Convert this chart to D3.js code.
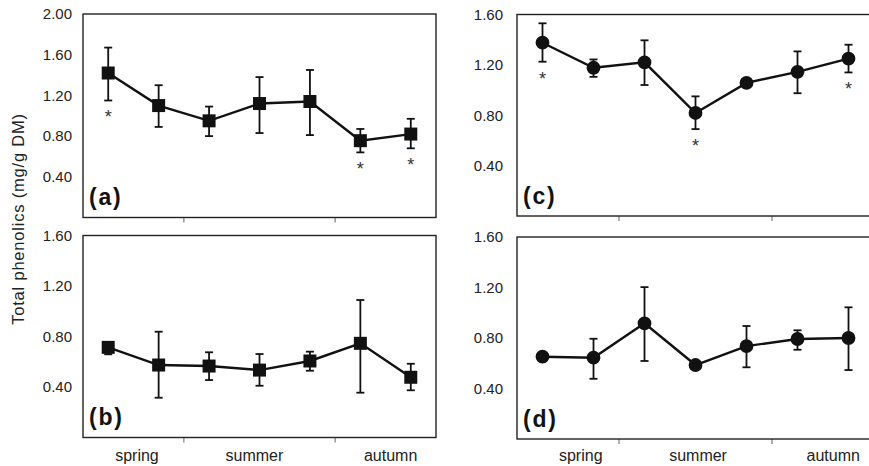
<!DOCTYPE html>
<html>
<head>
<meta charset="utf-8">
<script src="https://cdn.jsdelivr.net/npm/d3@7"></script>
<style>
  body { margin: 0; background: #fff; }
  svg { display: block; font-family: "Liberation Sans", Arial, sans-serif; }
</style>
</head>
<body>
<div id="graph"></div>
<script>
const width = 869;
const height = 466;

// sampling dates (7 per season row) and season names on the x axis
const samplings = [1, 2, 3, 4, 5, 6, 7];
const seasons = ["spring", "summer", "autumn"];

// (a) squares
const aMean = [1.42, 1.10, 0.95, 1.12, 1.14, 0.755, 0.82];
const aHigh = [1.67, 1.30, 1.09, 1.38, 1.45, 0.87, 0.97];
const aLow  = [1.15, 0.89, 0.80, 0.83, 0.81, 0.64, 0.68];
const aSig  = [1, 6, 7];

// (b) squares
const bMean = [0.714, 0.574, 0.566, 0.534, 0.606, 0.746, 0.477];
const bHigh = [0.754, 0.838, 0.675, 0.661, 0.680, 1.089, 0.584];
const bLow  = [0.659, 0.315, 0.455, 0.410, 0.529, 0.355, 0.374];
const bSig  = [];

// (c) circles
const cMean = [1.376, 1.177, 1.22, 0.818, 1.057, 1.145, 1.25];
const cHigh = [1.53, 1.243, 1.395, 0.95, null, 1.307, 1.36];
const cLow  = [1.225, 1.105, 1.04, 0.69, null, 0.975, 1.14];
const cSig  = [1, 4, 7];

// (d) circles
const dMean = [0.652, 0.644, 0.916, 0.586, 0.736, 0.792, 0.80];
const dHigh = [null, 0.794, 1.203, null, 0.895, 0.861, 1.043];
const dLow  = [null, 0.477, 0.618, null, 0.568, 0.707, 0.546];
const dSig  = [];

const ticksA = [0.4, 0.8, 1.2, 1.6, 2.0];
const ticksB = [0.4, 0.8, 1.2, 1.6];

const panels = [
  {label: "(a)", mean: aMean, high: aHigh, low: aLow, sig: aSig, ticks: ticksA, yMax: 2.0,
   left: 83, right: 436, top: 14, bottom: 217.5, shape: "square", seasonPos: null},
  {label: "(b)", mean: bMean, high: bHigh, low: bLow, sig: bSig, ticks: ticksB, yMax: 1.6,
   left: 83, right: 436, top: 235.5, bottom: 437.5, shape: "square", seasonPos: [1.07, 3.4, 6.1]},
  {label: "(c)", mean: cMean, high: cHigh, low: cLow, sig: cSig, ticks: ticksB, yMax: 1.6,
   left: 517, right: 874, top: 14.5, bottom: 216, shape: "circle", seasonPos: null},
  {label: "(d)", mean: dMean, high: dHigh, low: dLow, sig: dSig, ticks: ticksB, yMax: 1.6,
   left: 517, right: 874, top: 237, bottom: 439, shape: "circle", seasonPos: [1.25, 3.55, 6.2]}
];

const svg = d3.create("svg")
              .attr("width", width)
              .attr("height", height)
              .attr("viewBox", `0 0 ${width} ${height}`);

panels.forEach(p => {
  const x = d3.scaleBand()
              .domain(samplings)
              .range([p.left, p.right]);

  const y = d3.scaleLinear()
              .domain([0, p.yMax])
              .range([p.bottom, p.top]);

  const cx = d => x(d) + x.bandwidth()/2;

  const g = svg.append("g");

  //x axis ticks between seasons
  const xAxis = d3.axisBottom(x)
                  .tickValues([3, 6])
                  .tickSize(5)
                  .tickFormat("");

  g.append("g")
   .attr("transform", `translate(${-x.bandwidth()/2}, ${p.bottom})`)
   .call(xAxis)
   .call(a => a.select(".domain").remove())
   .call(a => a.selectAll(".tick line").attr("stroke", "#888").attr("stroke-width", 1.3));

  //y axis labels, no tick marks
  const yAxis = d3.axisLeft(y)
                  .tickValues(p.ticks)
                  .tickSize(0)
                  .tickPadding(p.left < 300 ? 11 : 14)
                  .tickFormat(d3.format(".2f"));

  g.append("g")
   .attr("transform", `translate(${p.left}, 0)`)
   .call(yAxis)
   .call(a => a.select(".domain").remove())
   .call(a => a.selectAll("text")
               .attr("font-size", 15)
               .attr("font-family", "Liberation Sans, Arial, sans-serif")
               .attr("fill", "#222"));

  //frame
  g.append("rect")
   .attr("x", p.left)
   .attr("y", p.top)
   .attr("width", p.right - p.left)
   .attr("height", p.bottom - p.top)
   .attr("fill", "none")
   .attr("stroke", "#222")
   .attr("stroke-width", 1.4);

  const rows = samplings.map((s, i) => ({s, mean: p.mean[i], high: p.high[i], low: p.low[i]}));

  //error bars
  const bars = g.selectAll(".err")
                .data(rows.filter(d => d.high != null))
                .enter()
                .append("g")
                .attr("class", "err")
                .attr("stroke", "#111")
                .attr("stroke-width", 1.8);

  bars.append("line")
      .attr("x1", d => cx(d.s))
      .attr("x2", d => cx(d.s))
      .attr("y1", d => y(d.high))
      .attr("y2", d => y(d.low));

  bars.append("line")
      .attr("x1", d => cx(d.s) - 4)
      .attr("x2", d => cx(d.s) + 4)
      .attr("y1", d => y(d.high))
      .attr("y2", d => y(d.high));

  bars.append("line")
      .attr("x1", d => cx(d.s) - 4)
      .attr("x2", d => cx(d.s) + 4)
      .attr("y1", d => y(d.low))
      .attr("y2", d => y(d.low));

  //line
  const line = d3.line()
                 .x(d => cx(d.s))
                 .y(d => y(d.mean));

  g.append("path")
   .datum(rows)
   .attr("d", line)
   .attr("fill", "none")
   .attr("stroke", "#111")
   .attr("stroke-width", 2.4);

  //markers
  const symbol = d3.symbol()
                   .type(p.shape === "square" ? d3.symbolSquare : d3.symbolCircle)
                   .size(p.shape === "square" ? 169 : 150);

  g.selectAll(".pt")
   .data(rows)
   .enter()
   .append("path")
   .attr("class", "pt")
   .attr("transform", d => `translate(${cx(d.s)}, ${y(d.mean)})`)
   .attr("d", symbol)
   .attr("fill", "#111");

  //significance asterisks
  g.selectAll(".sig")
   .data(rows.filter(d => p.sig.includes(d.s)))
   .enter()
   .append("text")
   .attr("class", "sig")
   .attr("x", d => cx(d.s))
   .attr("y", d => y(d.low != null ? d.low : d.mean) + 13 + 10)
   .attr("text-anchor", "middle")
   .attr("font-size", 18)
   .attr("fill", "#333")
   .text("*");

  //panel letter
  g.append("text")
   .attr("x", p.left + 6)
   .attr("y", p.bottom - 12.5)
   .attr("font-size", 23)
   .attr("font-weight", "bold")
   .attr("letter-spacing", 1.8)
   .attr("fill", "#111")
   .text(p.label);

  //season names
  if (p.seasonPos) {
    g.selectAll(".season")
     .data(seasons)
     .enter()
     .append("text")
     .attr("class", "season")
     .attr("x", (d, i) => p.left + x.bandwidth() * p.seasonPos[i])
     .attr("y", 461)
     .attr("text-anchor", "middle")
     .attr("font-size", 16)
     .attr("fill", "#222")
     .text(d => d);
  }
});

//y axis title
svg.append("text")
   .attr("transform", "rotate(270)")
   .attr("x", -219)
   .attr("y", 24)
   .attr("text-anchor", "middle")
   .attr("font-size", 16.5)
   .attr("letter-spacing", 0.8)
   .attr("fill", "#222")
   .text("Total phenolics (mg/g DM)");

document.getElementById("graph").append(svg.node());
</script>
</body>
</html>
